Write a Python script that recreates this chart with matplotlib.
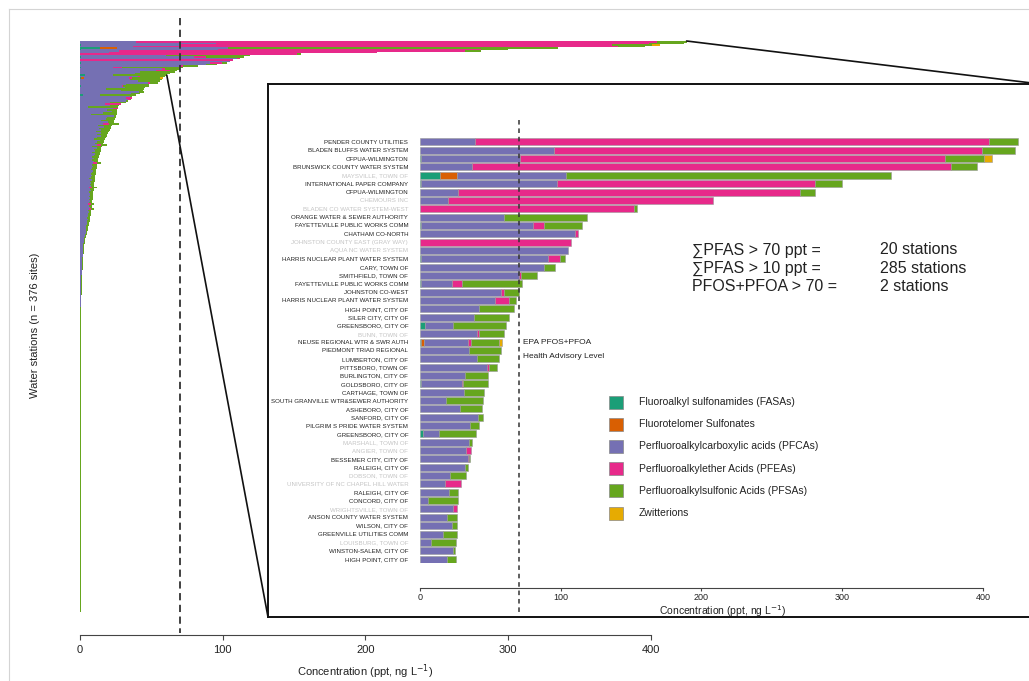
import matplotlib.pyplot as plt
import numpy as np
from matplotlib.patches import Rectangle, ConnectionPatch
from matplotlib.lines import Line2D

plt.rcParams['font.family'] = ['Liberation Sans', 'DejaVu Sans']

W, H = 1029, 681

classes = ['Fluoroalkyl sulfonamides (FASAs)', 'Fluorotelomer Sulfonates',
           'Perfluoroalkylcarboxylic acids (PFCAs)', 'Perfluoroalkylether Acids (PFEAs)',
           'Perfluoroalkylsulfonic Acids (PFSAs)', 'Zwitterions']
colors = ['#1b9e77', '#d95f02', '#7570b3', '#e7298a', '#66a61e', '#e6ab02']

# top 51 stations (shown in the inset), ppt
stations = ['PENDER COUNTY UTILITIES', 'BLADEN BLUFFS WATER SYSTEM', 'CFPUA-WILMINGTON',
            'BRUNSWICK COUNTY WATER SYSTEM', 'MAYSVILLE, TOWN OF', 'INTERNATIONAL PAPER COMPANY',
            'CFPUA-WILMINGTON', 'CHEMOURS INC', 'BLADEN CO WATER SYSTEM-WEST',
            'ORANGE WATER & SEWER AUTHORITY', 'FAYETTEVILLE PUBLIC WORKS COMM', 'CHATHAM CO-NORTH',
            'JOHNSTON COUNTY EAST (GRAY WAY)', 'AQUA NC WATER SYSTEM',
            'HARRIS NUCLEAR PLANT WATER SYSTEM', 'CARY, TOWN OF', 'SMITHFIELD, TOWN OF',
            'FAYETTEVILLE PUBLIC WORKS COMM', 'JOHNSTON CO-WEST', 'HARRIS NUCLEAR PLANT WATER SYSTEM',
            'HIGH POINT, CITY OF', 'SILER CITY, CITY OF', 'GREENSBORO, CITY OF', 'BUNN, TOWN OF',
            'NEUSE REGIONAL WTR & SWR AUTH', 'PIEDMONT TRIAD REGIONAL', 'LUMBERTON, CITY OF',
            'PITTSBORO, TOWN OF', 'BURLINGTON, CITY OF', 'GOLDSBORO, CITY OF', 'CARTHAGE, TOWN OF',
            'SOUTH GRANVILLE WTR&SEWER AUTHORITY', 'ASHEBORO, CITY OF', 'SANFORD, CITY OF',
            'PILGRIM S PRIDE WATER SYSTEM', 'GREENSBORO, CITY OF', 'MARSHALL, TOWN OF',
            'ANGIER, TOWN OF', 'BESSEMER CITY, CITY OF', 'RALEIGH, CITY OF', 'DOBSON, TOWN OF',
            'UNIVERSITY OF NC CHAPEL HILL WATER', 'RALEIGH, CITY OF', 'CONCORD, CITY OF',
            'WRIGHTSVILLE, TOWN OF', 'ANSON COUNTY WATER SYSTEM', 'WILSON, CITY OF',
            'GREENVILLE UTILITIES COMM', 'LOUISBURG, TOWN OF', 'WINSTON-SALEM, CITY OF',
            'HIGH POINT, CITY OF']
grey_rows = [4, 7, 8, 12, 13, 23, 36, 37, 40, 41, 44, 48]

top_fasa = [0, 0, 1, 0, 14, 1, 0, 0, 0, 0, 1, 0, 0, 0, 0.8, 0, 0, 1, 0, 0, 0, 0, 3.5, 0, 1, 0,
            0, 0, 0, 1, 0, 0, 0, 0, 0, 2, 0, 0, 0, 0, 0, 0, 0, 0, 0, 0, 0, 0, 0, 0, 0]
top_ftss = [0, 0, 0, 0, 12, 0, 0, 0, 0, 0, 0, 0, 0, 0, 0, 0, 0, 0, 0, 0, 0, 0, 0, 0, 2, 0,
            0, 0, 0, 0, 0, 0, 0, 0, 0, 0, 0, 0, 0, 0, 0, 0, 0, 0, 0, 0, 0, 0, 0, 0, 0]
top_pfca = [39, 95, 70, 37, 78, 96, 27, 20, 0, 60, 79, 110, 0, 105, 90, 88, 70, 22, 57.5, 53,
            42, 38.4, 19.7, 40.3, 31, 35, 40.3, 47.4, 32, 28.6, 31.5, 18.5, 28.4, 41.5, 35.5,
            11.7, 35, 32.4, 33.9, 32, 21.3, 17.8, 20.9, 5.9, 23.2, 18.9, 22.5, 16.1, 7.6, 23.7, 18.9]
top_pfea = [365, 304, 302, 340, 0, 184, 243, 188, 152, 0, 8, 2, 107.5, 0, 8.5, 0, 2, 6.5, 2, 10,
            0, 0, 0, 1.9, 2.3, 0, 0, 1.6, 0, 0.8, 0, 0, 0, 0, 0, 0, 0, 3.8, 1, 0, 0, 11.1, 0, 0,
            3.3, 0, 0, 0, 0, 0, 0]
top_pfsa = [21, 24, 28, 19, 231, 19, 11, 0, 2.5, 59, 27, 0, 0, 0, 4, 8, 11, 43, 10.7, 5, 24.5,
            24.7, 37.6, 17.5, 19.8, 22.6, 16, 5.5, 16.5, 17.6, 14, 26, 16, 3, 6.7, 25.8, 1.7, 0,
            0.9, 1.9, 11.1, 0, 6.4, 20.9, 0, 7.1, 3.5, 9.9, 18, 1.2, 6.5]
top_zwit = [0, 0, 5.5, 0, 0, 0, 0, 0, 0, 0, 0, 0, 0, 0, 0, 0, 0, 0, 0, 0, 0, 0, 0, 0, 2.1, 0,
            0, 0, 0, 0, 0, 0, 0, 0, 0, 0, 0, 0, 0, 0, 0, 0, 0, 0, 0, 0, 0, 0, 0, 0, 0]

# remaining stations of the main chart (rows 51-179), ppt
tail_pfca = [18.5, 15, 19.5, 16, 12.5, 17, 13.5, 15, 11.5,
             14.8, 12.2, 14.6, 12.1, 9.6, 14.1, 11.6, 10.2, 11.8, 8.4,
             12.0, 9.7, 10.4, 8.1, 10.8, 9.5, 8.2, 9.9, 8.7, 9.5,
             9.3, 8.1, 9.4, 8.2, 7.5, 9.3, 8.1, 7.4, 8.3, 7.6,
             6.5, 8.3, 7.2, 7.5, 6.9, 7.8, 6.2, 7.1, 7.5, 6.4,
             6.8, 7.2, 6.0, 6.9, 6.3, 7.2, 6.6, 5.9, 6.3, 6.7,
             6.0, 5.4, 6.3, 5.6, 5.5, 5.8, 5.1, 5.4, 4.7, 5.0,
             4.8, 4.1, 4.4, 4.5, 4.0, 4.0, 3.9, 3.4, 3.3, 3.0,
             3.0, 2.6, 2.6, 2.4, 2.3, 2.1, 2.2, 2.0, 2.0, 1.9,
             1.8, 1.8, 1.6, 1.7, 1.6, 1.5, 1.4, 1.4, 1.4, 1.3,
             1.2, 1.2, 1.2, 1.1, 1.0, 1.0, 1.0, 0.9, 0.9, 0.8,
             0.8, 0.7, 0.7, 0.7, 0.6, 0.6, 0.6, 0.5, 0.5, 0.5,
             0.5, 0.4, 0.4, 0.4, 0.4, 0.3, 0.3, 0.3, 0.3, 0.2]
tail_pfsa = [6, 9, 4, 7, 10, 5, 8, 6, 9,
             5, 7, 4, 6, 8, 3, 5, 6, 4, 7,
             3, 5, 4, 6, 3, 4, 5, 3, 4, 3,
             3, 4, 2.5, 3.5, 4, 2, 3, 3.5, 2.5, 3,
             4, 2, 3, 2.5, 3, 2, 3.5, 2.5, 2, 3,
             2.5, 2, 3, 2, 2.5, 1.5, 2, 2.5, 2, 1.5,
             2, 2.5, 1.5, 2, 2, 1.5, 2, 1.5, 2, 1.5,
             1.5, 2, 1.5, 1.2, 1.5, 1.2, 1, 1.2, 1, 1,
             0.8, 1, 0.8, 0.8, 0.7, 0.8, 0.6, 0.7, 0.6, 0.6,
             0.6, 0.5, 0.6, 0.5, 0.5, 0.5, 0.6, 0.5, 0.5, 0.5,
             0.6, 0.5, 0.5, 0.5, 0.6, 0.5, 0.5, 0.5, 0.5, 0.5,
             0.5, 0.5, 0.5, 0.5, 0.5, 0.5, 0.5, 0.5, 0.5, 0.5,
             0.5, 0.5, 0.5, 0.5, 0.5, 0.5, 0.5, 0.5, 0.5, 0.5]
stripe_rows = [54, 68, 80, 96, 107, 110]
stripe_pfea = [4, 3, 2.5, 2, 1.5, 1.5]

# trace-level stations (rows 180-375)
trace_pfsa = [0.7, 0.7, 0.7, 0.7, 0.6, 0.6, 0.6, 0.6, 0.6, 0.6, 0.6, 0.6, 0.6, 0.6,
              0.6, 0.6, 0.6, 0.6, 0.6, 0.6, 0.6, 0.6, 0.5, 0.5, 0.5, 0.5, 0.5, 0.5,
              0.5, 0.5, 0.5, 0.5, 0.5, 0.5, 0.5, 0.5, 0.5, 0.5, 0.5, 0.5, 0.5, 0.5,
              0.5, 0.5, 0.5, 0.5, 0.5, 0.5, 0.5, 0.5, 0.5, 0.5, 0.5, 0.5, 0.5, 0.5,
              0.5, 0.5, 0.5, 0.5, 0.5, 0.5, 0.5, 0.5, 0.5, 0.5, 0.5, 0.5, 0.5, 0.5,
              0.5, 0.5, 0.5, 0.5, 0.5, 0.5, 0.5, 0.5, 0.5, 0.5, 0.5, 0.5, 0.5, 0.5,
              0.5, 0.5, 0.5, 0.5, 0.5, 0.5, 0.5, 0.5, 0.5, 0.5, 0.5, 0.5, 0.5, 0.5,
              0.5, 0.5, 0.5, 0.5, 0.5, 0.5, 0.5, 0.5, 0.5, 0.5, 0.5, 0.5, 0.5, 0.5,
              0.5, 0.5, 0.5, 0.5, 0.5, 0.5, 0.5, 0.5, 0.5, 0.5, 0.5, 0.5, 0.5, 0.5,
              0.5, 0.5, 0.5, 0.5, 0.5, 0.5, 0.5, 0.5, 0.5, 0.5, 0.5, 0.5, 0.5, 0.5,
              0.5, 0.5, 0.5, 0.5, 0.5, 0.5, 0.5, 0.5, 0.5, 0.5, 0.5, 0.5, 0.5, 0.5,
              0.5, 0.5, 0.5, 0.5, 0.5, 0.5, 0.5, 0.5, 0.5, 0.5, 0.5, 0.5, 0.5, 0.5,
              0.5, 0.5, 0.5, 0.5, 0.5, 0.5, 0.5, 0.5, 0.5, 0.5, 0.5, 0.5, 0.5, 0.5,
              0.5, 0.5, 0.5, 0.5, 0.5, 0.5, 0.5, 0.5, 0.5, 0.5, 0.4, 0.4, 0.4, 0.4]

stats_left = ['\u2211PFAS > 70 ppt =', '\u2211PFAS > 10 ppt =', 'PFOS+PFOA > 70 =']
stats_right = ['20 stations', '285 stations', '2 stations']
epa_level = 70
n_sites = 376


def frac(x0, y0, x1, y1):
    return [x0 / W, 1 - y1 / H, (x1 - x0) / W, (y1 - y0) / H]


def stack(ax, y, series, height, **kw):
    left = np.zeros(len(y))
    for vals, c in zip(series, colors):
        vals = np.asarray(vals, dtype=float)
        m = vals > 0
        if m.any():
            ax.barh(y[m], vals[m], left=left[m], height=height, color=c, **kw)
        left += vals
    return left


n_top, n_tail, n_trace = len(stations), len(tail_pfca), len(trace_pfsa)
z_tail, z_trace = np.zeros(n_tail), np.zeros(n_trace)
tail_pfea = np.zeros(n_tail)
tail_pfea[np.array(stripe_rows) - n_top] = stripe_pfea

top_series = [top_fasa, top_ftss, top_pfca, top_pfea, top_pfsa, top_zwit]
main_series = [
    np.concatenate([top_fasa, z_tail, z_trace]),
    np.concatenate([top_ftss, z_tail, z_trace]),
    np.concatenate([top_pfca, tail_pfca, z_trace]),
    np.concatenate([top_pfea, tail_pfea, z_trace]),
    np.concatenate([top_pfsa, tail_pfsa, trace_pfsa]),
    np.concatenate([top_zwit, z_tail, z_trace]),
]

fig = plt.figure(figsize=(W / 100, H / 100), dpi=100)

# ---- main chart
ax = fig.add_axes(frac(80, 41, 708, 612))
y_all = np.arange(n_sites)
totals = stack(ax, y_all, main_series, 1.0, linewidth=0, antialiased=False)
ax.set_xlim(0, 440)
ax.set_ylim(n_sites - 0.5, -0.5)
for s in ['left', 'top', 'right']:
    ax.spines[s].set_visible(False)
ax.spines['bottom'].set_position(('outward', 16.5))
ax.spines['bottom'].set_bounds(0, 400)
ax.spines['bottom'].set_color('#444')
ax.set_yticks([])
ax.set_xticks([0, 100, 200, 300, 400])
ax.tick_params(axis='x', labelsize=8, length=3.5, pad=4, color='#444', labelcolor='#222')
ax.plot([epa_level, epa_level], [-15.5, 389], color='#333', lw=1.3,
        ls=(0, (4, 2.5)), clip_on=False)
fig.text(365 / W, 1 - 672 / H, 'Concentration (ppt, ng L$^{-1}$)', ha='center', va='center',
         fontsize=8, color='#222')
fig.text(35 / W, 1 - 325 / H, 'Water stations (n = 376 sites)', rotation=90,
         ha='center', va='center', fontsize=8, color='#222')

# ---- inset box
axb = fig.add_axes(frac(268, 84, 1040, 617))
axb.set_xticks([])
axb.set_yticks([])
axb.patch.set_alpha(0)
for s in axb.spines.values():
    s.set_linewidth(1.4)
    s.set_color('#111')

# ---- inset bars
ai = fig.add_axes(frac(420, 137.8, 1025.2, 563.2))
ai.patch.set_alpha(0)
y_top = np.arange(n_top)
stack(ai, y_top, top_series, 0.84, edgecolor='#9a9a9a', linewidth=0.4)
ai.set_xlim(0, 430)
ai.set_ylim(n_top - 0.5, -0.5)
for s in ['left', 'top', 'right']:
    ai.spines[s].set_visible(False)
ai.spines['bottom'].set_position(('outward', 18))
ai.spines['bottom'].set_bounds(0, 400)
ai.spines['bottom'].set_color('#444')
ai.set_xticks([0, 100, 200, 300, 400])
ai.tick_params(axis='x', labelsize=6.5, length=2.5, pad=1, color='#444', labelcolor='#222')
ai.set_yticks(y_top)
ai.set_yticklabels(stations, fontsize=4.4)
ai.tick_params(axis='y', length=0, pad=8.5)
for i, lab in enumerate(ai.get_yticklabels()):
    lab.set_color('#c4c4c4' if i in grey_rows else '#222')
ai.set_xlabel('Concentration (ppt, ng L$^{-1}$)', fontsize=7.5, color='#222', labelpad=1)
ai.plot([epa_level, epa_level], [-2.6, 56.4], color='#333', lw=1.1,
        ls=(0, (3, 2.5)), clip_on=False)
ai.text(73, 24.0, 'EPA PFOS+PFOA', fontsize=6, color='#222', va='center', ha='left')
ai.text(73, 25.7, 'Health Advisory Level', fontsize=6, color='#222', va='center', ha='left')

# stats text
for i, (a, b) in enumerate(zip(stats_left, stats_right)):
    yy = 1 - (250 + i * 18.5) / H
    fig.text(692 / W, yy, a, fontsize=11.5, va='center', ha='left', color='#222')
    fig.text(880 / W, yy, b, fontsize=11.5, va='center', ha='left', color='#222')

# legend
for i, (lab, c) in enumerate(zip(classes, colors)):
    yc = 402 + i * 22.2
    fig.add_artist(Rectangle((609 / W, 1 - (yc + 6.5) / H), 14 / W, 13 / H,
                             facecolor=c, edgecolor='#888', lw=0.5, transform=fig.transFigure))
    fig.text(639 / W, 1 - yc / H, lab, fontsize=7.5, va='center', ha='left', color='#222')

# zoom connector lines
for xyA, xyB in [((totals[0], -0.5), (1, 1)), ((totals[22], 22), (0, 0))]:
    con = ConnectionPatch(xyA=xyA, coordsA=ax.transData, xyB=xyB, coordsB=axb.transAxes,
                          color='#111', lw=1.2)
    fig.add_artist(con)

# faint outer frame
fig.add_artist(Line2D([9 / W, 1], [1 - 9 / H, 1 - 9 / H], color='#d4d4d4', lw=0.8))
fig.add_artist(Line2D([9 / W, 9 / W], [0, 1 - 9 / H], color='#d4d4d4', lw=0.8))

fig.savefig('out.png', dpi=100)
